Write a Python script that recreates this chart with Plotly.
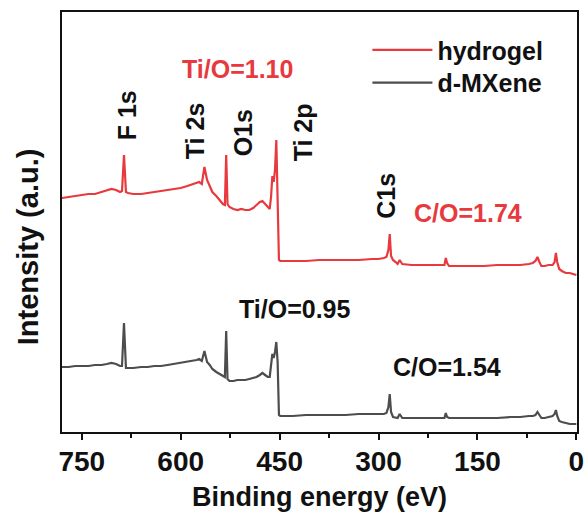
import plotly.graph_objects as go

# XPS survey spectra: binding energy (eV) and intensity (a.u., offset for display)
hydrogel_be = [780, 770, 760, 750, 740, 730, 720, 712, 705, 698, 692, 689, 686, 683, 680,
               672, 660, 650, 640, 630, 620, 610, 600, 590, 582, 576, 572, 568, 564, 560,
               556, 552, 546, 540, 536, 533, 531, 529, 526, 520, 514, 508, 502, 496, 490,
               485, 480, 476, 472, 468, 465, 463, 461, 459, 457, 455, 453, 451, 449, 445,
               430, 410, 390, 370, 350, 330, 310, 300, 292, 288, 285, 283, 281, 278, 274,
               271, 268, 264, 250, 230, 210, 200, 198, 196, 193, 180, 160, 140, 120, 100,
               85, 72, 66, 62, 59, 56, 53, 48, 42, 36, 33, 31, 29, 26, 22, 16, 10, 5, 0]
hydrogel_int = [234, 235, 236, 237, 238, 238, 240, 241, 243, 242, 240, 241, 277, 240, 239,
                238, 238, 239, 240, 241, 242, 243, 244, 246, 248, 249, 250, 248, 265, 252,
                245, 240, 236, 231, 228, 227, 277, 228, 225, 223, 222, 223, 222, 222, 224,
                227, 230, 231, 228, 226, 223, 235, 256, 250, 262, 292, 245, 172, 171, 171,
                171, 171, 172, 172, 172, 172, 173, 173, 174, 175, 182, 198, 176, 172, 170,
                168, 172, 168, 167, 167, 167, 167, 174, 169, 166, 166, 166, 166, 167, 167,
                167, 168, 169, 171, 175, 170, 166, 166, 167, 167, 170, 179, 170, 163, 161,
                159, 159, 158, 157]

mxene_be = [780, 770, 760, 750, 740, 730, 720, 712, 705, 698, 692, 689, 686, 683, 680,
            672, 660, 650, 640, 630, 620, 610, 600, 590, 582, 576, 572, 568, 564, 560,
            556, 552, 546, 540, 536, 533, 531, 529, 526, 520, 514, 508, 502, 496, 490,
            485, 480, 476, 472, 468, 465, 463, 461, 459, 457, 455, 453, 451, 449, 445,
            430, 410, 390, 370, 350, 330, 310, 300, 292, 288, 285, 283, 281, 278, 274,
            271, 268, 264, 250, 230, 210, 200, 198, 196, 193, 180, 160, 140, 120, 100,
            85, 72, 66, 62, 59, 56, 53, 48, 42, 36, 33, 31, 29, 26, 22, 16, 10, 5, 0]
mxene_int = [65, 65, 66, 66, 66, 67, 67, 68, 69, 68, 66, 66, 109, 64, 64,
             64, 65, 65, 66, 66, 67, 68, 69, 70, 71, 72, 73, 71, 81, 70,
             67, 63, 60, 58, 56, 55, 101, 53, 51, 51, 52, 52, 52, 53, 54,
             55, 57, 59, 57, 55, 55, 65, 78, 74, 80, 90, 70, 17, 16, 16,
             16, 17, 17, 17, 17, 18, 18, 18, 18, 19, 25, 38, 20, 15, 14,
             14, 18, 14, 14, 14, 14, 14, 19, 15, 14, 14, 14, 14, 14, 15,
             15, 16, 16, 17, 20, 17, 14, 14, 15, 16, 18, 22, 16, 11, 10,
             9, 8, 8, 8]

series_names = ["hydrogel", "d-MXene"]
series_colors = ["#e8393e", "#4d4d4d"]

peak_labels = ["F 1s", "Ti 2s", "O1s", "Ti 2p", "C1s"]
peak_label_be = [681, 578, 505, 414, 289]
peak_label_y = [317, 301, 299, 300, 236]

ratio_labels = ["Ti/O=1.10", "C/O=1.74", "Ti/O=0.95", "C/O=1.54"]
ratio_be = [514, 165, 426, 196]
ratio_y = [363, 219, 123, 65]
ratio_colors = ["#e8393e", "#e8393e", "#111111", "#111111"]

x_ticks = [750, 600, 450, 300, 150, 0]

font_family = "Liberation Sans, Arial, Helvetica, sans-serif"
ink = "#111111"

fig = go.Figure()
for be, inten, name, color, leg in [
        (hydrogel_be, hydrogel_int, series_names[0], series_colors[0], "legend"),
        (mxene_be, mxene_int, series_names[1], series_colors[1], "legend2")]:
    fig.add_trace(go.Scatter(x=be, y=inten, mode="lines", name=name, legend=leg,
                             line=dict(color=color, width=2.2)))

for text, xb, yv in zip(peak_labels, peak_label_be, peak_label_y):
    fig.add_annotation(x=xb, y=yv, text=text, showarrow=False, textangle=-90,
                       font=dict(family=font_family, size=25, color=ink, weight="bold"))

for text, xb, yv, col in zip(ratio_labels, ratio_be, ratio_y, ratio_colors):
    fig.add_annotation(x=xb, y=yv, text=text, showarrow=False,
                       font=dict(family=font_family, size=25, color=col, weight="bold"))

# vertical axis title, placed as free text left of the frame
fig.add_annotation(xref="paper", yref="paper", x=-0.066, y=0.44,
                   xanchor="center", yanchor="middle",
                   text="Intensity (a.u.)", showarrow=False, textangle=-90,
                   font=dict(family=font_family, size=29, color=ink, weight="bold"))

legend_style = dict(xanchor="left", yanchor="top", bgcolor="rgba(0,0,0,0)",
                    itemwidth=60, tracegroupgap=0,
                    font=dict(family=font_family, size=25, color=ink, weight="bold"))

fig.update_layout(
    width=587, height=522,
    margin=dict(l=62, r=10, t=12, b=90),
    paper_bgcolor="white", plot_bgcolor="white",
    font=dict(family=font_family, color=ink),
    showlegend=True,
    legend=dict(x=0.593, y=0.964, **legend_style),
    legend2=dict(x=0.593, y=0.886, **legend_style),
    xaxis=dict(range=[780, -1], tickvals=x_ticks, ticks="outside", ticklen=6,
               tickwidth=2, tickcolor=ink, automargin=False, ticklabelstandoff=-3,
               minor=dict(dtick=75, tick0=0, ticks="outside", ticklen=4, tickwidth=1.5,
                          tickcolor=ink),
               showline=True, linecolor=ink, linewidth=2, mirror=True,
               showgrid=False, zeroline=False,
               tickfont=dict(family=font_family, size=28, color=ink, weight="bold"),
               title=dict(text="Binding energy (eV)", standoff=12,
                          font=dict(family=font_family, size=27, color=ink, weight="bold"))),
    yaxis=dict(range=[0, 420], showticklabels=False, ticks="", automargin=False,
               showline=True, linecolor=ink, linewidth=2, mirror=True,
               showgrid=False, zeroline=False),
)

fig.write_html("out.html")
